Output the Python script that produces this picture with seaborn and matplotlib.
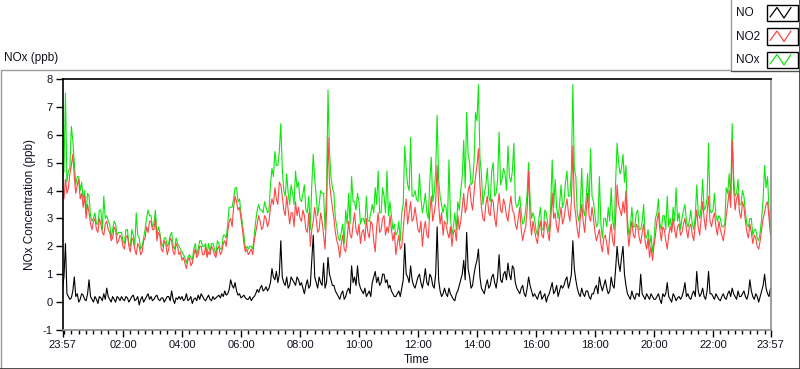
import matplotlib
matplotlib.use("Agg")
import matplotlib.pyplot as plt
import numpy as np
import pandas as pd
import seaborn as sns
from matplotlib.lines import Line2D
from matplotlib.patches import Rectangle

# one reading every 3 minutes starting at 23:57, one row per hour
no2 = [
    3.9, 3.7, 4.4, 3.9, 4.1, 4.6, 4.9, 5.3, 4.5, 3.9, 4.2, 4.4, 3.7, 3.9, 3.4, 3.8, 3.0, 3.5, 3.2, 2.8,
    2.6, 2.9, 3.0, 2.6, 2.5, 3.0, 2.8, 2.5, 2.4, 2.8, 2.9, 2.6, 2.5, 2.2, 2.3, 2.7, 2.6, 2.1, 2.2, 2.4,
    2.3, 2.0, 1.9, 2.3, 2.4, 2.0, 1.8, 2.3, 2.2, 1.9, 1.7, 2.1, 2.0, 1.7, 1.8, 2.2, 2.3, 2.7, 2.5, 2.9,
    2.9, 2.6, 2.6, 3.0, 2.2, 2.5, 2.4, 1.9, 1.8, 2.2, 2.1, 1.7, 1.9, 2.3, 2.2, 1.8, 1.7, 2.1, 2.0, 1.7,
    1.8, 1.5, 1.6, 1.4, 1.2, 1.5, 1.6, 1.3, 1.4, 1.7, 1.9, 1.6, 1.7, 2.0, 2.0, 1.7, 1.7, 2.0, 1.6, 1.8,
    1.7, 2.0, 1.9, 1.7, 1.6, 1.9, 2.0, 1.7, 1.8, 2.1, 2.2, 2.0, 2.5, 2.9, 3.0, 2.7, 3.4, 3.8, 3.6, 3.3,
    3.4, 3.0, 2.6, 2.1, 1.8, 1.9, 1.7, 1.8, 1.9, 1.7, 2.2, 2.5, 2.8, 3.1, 2.9, 2.6, 2.7, 3.1, 3.0, 2.7,
    2.9, 3.4, 3.7, 3.5, 4.1, 3.7, 3.5, 4.3, 4.2, 3.8, 3.3, 3.1, 3.8, 3.3, 2.8, 3.2, 3.2, 2.7, 3.6, 3.1,
    3.4, 3.0, 2.9, 3.3, 3.1, 2.6, 2.5, 3.2, 2.0, 2.6, 2.9, 3.4, 3.0, 2.5, 2.6, 3.2, 2.9, 2.4, 1.9, 3.2,
    5.9, 4.3, 3.8, 3.4, 3.0, 2.5, 2.2, 2.0, 1.6, 2.1, 2.4, 1.9, 1.8, 2.3, 2.9, 2.4, 2.3, 2.8, 3.2, 2.6,
    2.4, 2.8, 2.1, 2.5, 2.6, 2.2, 3.0, 2.5, 2.3, 2.9, 2.8, 2.2, 1.8, 2.7, 3.2, 2.5, 2.6, 3.0, 3.1, 2.4,
    2.7, 2.5, 3.1, 2.6, 2.2, 2.5, 1.7, 2.1, 2.4, 1.9, 2.0, 2.6, 3.3, 3.7, 2.8, 3.2, 3.6, 2.9, 3.0, 3.4,
    3.0, 2.6, 2.5, 2.9, 2.0, 2.6, 2.9, 2.4, 2.3, 3.2, 3.8, 2.9, 3.2, 3.6, 4.9, 3.5, 2.8, 3.2, 2.4, 2.9,
    2.8, 2.5, 2.3, 2.7, 2.0, 2.5, 2.6, 2.2, 3.1, 2.6, 2.9, 3.4, 3.9, 3.2, 3.4, 4.0, 4.2, 3.6, 3.3, 3.9,
    4.5, 4.9, 5.5, 4.2, 3.4, 3.0, 2.9, 3.5, 3.8, 3.2, 3.1, 3.7, 3.6, 3.0, 2.7, 3.4, 3.9, 3.3, 3.2, 3.7,
    3.5, 3.1, 2.9, 3.4, 3.8, 3.3, 3.2, 2.8, 2.6, 3.0, 3.4, 2.6, 2.2, 2.5, 2.7, 3.3, 4.7, 3.0, 2.4, 2.9,
    2.6, 2.3, 2.1, 2.6, 2.9, 2.4, 2.3, 2.9, 2.8, 2.5, 2.2, 2.9, 3.9, 3.0, 3.2, 2.7, 2.5, 3.0, 3.4, 2.8,
    3.0, 3.4, 3.7, 3.2, 2.9, 3.6, 5.6, 3.5, 3.1, 2.6, 2.3, 3.0, 3.5, 2.9, 2.5, 3.2, 3.9, 3.1, 2.9, 3.4,
    3.0, 2.5, 2.2, 2.4, 2.6, 2.1, 1.8, 2.3, 2.4, 2.1, 1.7, 2.4, 2.8, 2.2, 2.0, 3.0, 4.2, 3.5, 3.3, 3.1,
    3.6, 3.2, 4.0, 2.6, 2.0, 2.5, 2.9, 2.4, 2.3, 2.8, 2.7, 2.3, 2.1, 2.5, 2.8, 2.2, 1.9, 2.3, 1.6, 2.0,
    1.5, 2.0, 2.4, 2.9, 3.2, 2.6, 2.2, 2.7, 2.6, 2.2, 1.9, 2.4, 2.7, 2.5, 3.0, 2.6, 2.3, 2.7, 2.8, 2.4,
    2.5, 2.8, 3.0, 2.6, 2.3, 2.7, 2.8, 2.4, 2.2, 2.8, 3.3, 2.7, 2.4, 3.0, 3.6, 3.0, 2.6, 3.2, 3.8, 2.9,
    2.7, 3.0, 3.2, 2.7, 2.4, 2.9, 2.6, 2.4, 2.2, 2.6, 3.1, 3.5, 4.0, 3.4, 5.8, 4.1, 3.3, 3.7, 3.9, 3.2,
    3.0, 3.6, 3.4, 2.9, 2.5, 2.3, 2.8, 2.5, 2.1, 2.4, 2.3, 2.0, 1.9, 2.2, 2.6, 3.0, 3.2, 3.5, 3.6, 3.0,
    2.4,
]
nox = [
    4.4, 4.7, 7.5, 4.3, 4.7, 4.8, 6.3, 5.8, 5.0, 4.2, 4.5, 4.5, 4.0, 4.3, 3.7, 4.0, 3.2, 3.9, 3.8, 3.1,
    2.9, 3.0, 3.2, 2.8, 2.8, 3.3, 3.3, 2.6, 3.8, 3.0, 3.1, 2.9, 2.8, 2.3, 2.6, 2.9, 2.8, 2.4, 2.5, 2.5,
    2.5, 2.2, 2.1, 2.6, 2.6, 2.1, 2.0, 2.6, 2.4, 2.0, 3.2, 2.4, 2.3, 1.9, 2.0, 2.3, 2.6, 3.0, 3.3, 3.1,
    3.1, 2.7, 2.8, 3.3, 2.4, 2.7, 2.5, 2.1, 2.0, 2.3, 2.3, 2.0, 2.1, 2.4, 2.5, 2.0, 1.9, 2.3, 2.1, 2.0,
    1.9, 1.8, 1.7, 1.6, 1.4, 1.6, 1.7, 1.6, 1.5, 1.9, 2.1, 1.7, 1.9, 2.2, 2.2, 2.0, 2.0, 2.1, 1.7, 2.1,
    1.8, 2.1, 2.1, 1.9, 1.7, 2.2, 2.1, 1.9, 1.9, 2.4, 2.4, 2.3, 2.8, 3.4, 3.4, 3.4, 3.7, 4.1, 4.1, 3.6,
    3.7, 3.2, 2.8, 2.4, 1.9, 2.0, 1.9, 2.0, 2.0, 1.9, 2.4, 2.9, 3.3, 3.5, 3.3, 3.3, 3.2, 3.6, 3.4, 3.2,
    3.3, 4.2, 4.8, 4.5, 5.4, 4.9, 4.9, 5.4, 6.4, 4.8, 4.0, 3.8, 4.6, 3.9, 3.5, 4.2, 3.9, 3.5, 4.7, 4.1,
    4.3, 3.7, 3.6, 3.9, 4.2, 3.3, 3.2, 3.8, 2.6, 4.2, 5.3, 4.4, 3.8, 3.1, 3.5, 4.0, 3.9, 3.9, 2.6, 4.0,
    7.6, 5.4, 4.5, 4.1, 3.9, 3.0, 2.7, 2.3, 2.2, 2.5, 2.8, 2.1, 3.3, 2.8, 3.9, 2.8, 4.5, 3.6, 3.6, 3.3,
    3.9, 3.6, 2.8, 3.0, 3.0, 2.8, 3.8, 2.9, 2.9, 3.2, 3.5, 3.2, 4.1, 3.5, 4.7, 3.2, 3.2, 4.1, 3.8, 3.2,
    4.7, 3.1, 3.6, 3.1, 2.6, 2.8, 2.4, 2.5, 2.9, 2.2, 3.2, 3.5, 5.6, 4.8, 4.2, 4.0, 5.9, 3.8, 3.8, 4.0,
    3.7, 3.6, 4.6, 3.7, 3.2, 3.5, 3.9, 3.2, 3.0, 4.3, 5.2, 3.6, 3.9, 4.7, 6.7, 4.4, 3.8, 3.5, 3.2, 3.5,
    3.4, 2.8, 5.1, 3.1, 2.4, 2.7, 3.2, 2.6, 3.6, 3.3, 4.0, 4.5, 5.8, 4.1, 6.8, 5.3, 5.0, 4.2, 4.3, 5.0,
    6.8, 6.5, 7.8, 5.2, 4.6, 3.5, 3.9, 4.2, 4.8, 3.8, 3.6, 4.7, 5.0, 3.8, 3.9, 4.4, 6.1, 4.2, 4.4, 4.8,
    4.6, 4.0, 5.6, 4.5, 4.3, 4.7, 5.7, 3.6, 3.4, 3.5, 3.8, 3.2, 2.8, 2.9, 3.3, 3.9, 5.0, 3.7, 3.0, 3.2,
    3.0, 2.6, 2.4, 3.0, 3.4, 2.6, 2.6, 3.3, 3.2, 2.8, 2.5, 3.5, 5.1, 3.4, 4.4, 3.4, 3.0, 3.5, 4.2, 3.4,
    3.6, 4.3, 4.7, 3.8, 3.8, 4.7, 7.8, 4.8, 4.5, 3.2, 2.9, 3.3, 4.8, 3.3, 3.1, 3.7, 4.6, 3.4, 5.5, 3.8,
    3.6, 3.1, 2.7, 2.8, 4.5, 2.8, 2.3, 3.0, 3.0, 2.7, 3.4, 2.9, 4.1, 2.9, 2.6, 4.3, 5.7, 5.0, 4.6, 4.8,
    5.3, 4.3, 4.9, 3.0, 2.4, 2.7, 3.4, 2.7, 2.7, 3.2, 3.3, 2.6, 2.6, 2.9, 3.5, 2.4, 2.3, 2.6, 2.0, 2.4,
    1.8, 2.2, 3.0, 3.2, 3.7, 2.8, 2.6, 3.1, 3.1, 2.6, 3.8, 2.7, 3.0, 2.6, 3.4, 2.9, 4.1, 2.9, 3.2, 2.6,
    3.0, 3.3, 3.5, 2.9, 2.7, 2.9, 3.3, 2.8, 2.6, 3.1, 4.2, 3.2, 3.0, 3.4, 4.4, 3.3, 3.4, 3.7, 5.7, 3.3,
    3.2, 3.3, 3.9, 3.1, 2.9, 3.1, 3.0, 2.7, 2.7, 2.8, 4.1, 3.9, 4.6, 3.7, 6.4, 4.5, 3.8, 3.9, 4.4, 3.5,
    3.5, 4.0, 3.8, 3.2, 2.8, 2.7, 3.0, 3.0, 2.4, 2.6, 2.6, 2.3, 2.2, 2.5, 3.0, 3.7, 4.9, 4.1, 4.5, 3.3,
    2.6,
]
no = [
    0.5, 0.9, 2.1, 0.3, 0.2, 0.1, 0.15, 0.4, 0.9, 0.2, 0.3, 0.0, 0.1, 0.3, 0.25, 0.1, 0.05, 0.3, 0.8, 0.2,
    0.1, 0.0, 0.2, 0.1, -0.05, 0.2, 0.15, 0.05, 0.3, 0.1, 0.5, 0.2, 0.1, 0.0, 0.2, 0.1, 0.0, 0.2, 0.15, 0.05,
    0.2, 0.1, 0.05, 0.2, 0.15, 0.0, 0.1, 0.2, 0.25, 0.05, 0.1, 0.2, -0.1, 0.1, 0.2, 0.0, 0.1, 0.2, 0.3, 0.1,
    0.2, 0.05, 0.1, 0.2, 0.25, 0.1, 0.05, 0.15, 0.15, 0.0, 0.1, 0.2, 0.2, 0.05, 0.4, 0.1, -0.05, 0.15, 0.1, 0.2,
    0.1, 0.2, 0.05, 0.1, 0.3, 0.05, 0.1, 0.2, -0.05, 0.1, 0.15, 0.05, 0.25, 0.1, 0.3, 0.2, 0.1, 0.05, 0.15, 0.25,
    0.1, 0.05, 0.2, 0.1, 0.15, 0.2, 0.25, 0.15, 0.3, 0.2, 0.4, 0.25, 0.3, 0.45, 0.8, 0.6, 0.5, 0.7, 0.4, 0.25,
    0.3, 0.15, 0.2, 0.25, 0.15, 0.1, 0.1, 0.2, 0.05, 0.15, 0.2, 0.3, 0.45, 0.35, 0.5, 0.6, 0.4, 0.45, 0.55, 0.4,
    0.5, 0.7, 1.2, 0.9, 0.8, 1.1, 0.7, 1.0, 2.2, 0.9, 0.7, 0.6, 0.9, 0.5, 0.6, 0.9, 0.8, 0.7, 0.6, 0.9,
    0.8, 0.6, 0.7, 0.5, 0.3, 0.6, 0.8, 0.5, 0.6, 1.5, 2.4, 0.9, 0.7, 0.5, 0.9, 0.7, 0.6, 1.4, 0.5, 0.7,
    1.6, 1.0, 0.8, 0.6, 0.6, 0.4, 0.3, 0.2, 0.1, 0.3, 0.4, 0.1, 0.2, 0.4, 0.5, 0.3, 1.3, 0.7, 0.9, 0.6,
    1.3, 0.7, 0.5, 0.4, 0.3, 0.5, 0.2, 0.3, 0.4, 0.2, 0.7, 0.9, 1.1, 0.7, 0.9, 0.6, 0.7, 1.0, 1.0, 0.7,
    0.8, 0.5, 0.6, 0.4, 0.3, 0.2, 0.2, 0.3, 0.4, 0.2, 0.5, 0.8, 2.1, 1.0, 0.9, 0.7, 1.3, 0.8, 0.6, 0.5,
    0.7, 0.9, 1.0, 0.7, 0.5, 0.8, 1.2, 0.7, 0.6, 1.0, 0.9, 0.6, 0.5, 1.0, 2.7, 0.8, 0.4, 0.2, 0.3, 0.5,
    0.3, 0.2, 0.5, 0.3, 0.2, 0.1, 0.05, 0.3, 0.4, 0.6, 0.8, 1.0, 1.5, 0.8, 2.5, 1.2, 0.9, 0.5, 0.6, 1.0,
    1.3, 1.5, 1.9, 0.9, 0.5, 0.4, 0.3, 0.6, 0.8, 0.5, 0.6, 0.9, 1.0, 0.7, 0.5, 0.9, 1.7, 0.8, 0.7, 1.0,
    1.1, 0.8, 1.4, 1.0, 0.8, 1.3, 1.2, 0.7, 0.5, 0.4, 0.3, 0.5, 0.6, 0.3, 0.2, 0.5, 0.9, 0.6, 0.4, 0.2,
    0.3, 0.2, 0.1, 0.3, 0.4, 0.1, 0.2, 0.3, 0.0, 0.2, 0.3, 0.5, 0.7, 0.3, 0.4, 0.6, 0.2, 0.4, 0.6, 0.5,
    0.6, 0.8, 0.9, 0.5, 0.7, 1.0, 2.2, 1.2, 0.8, 0.5, 0.3, 0.2, 0.5, 0.3, 0.2, 0.4, 0.4, 0.2, 0.1, 0.3,
    0.3, 0.5, 0.6, 0.3, 0.9, 0.6, 0.4, 0.6, 0.8, 0.5, 0.3, 0.4, 0.9, 0.6, 0.5, 1.2, 2.0, 1.4, 1.1, 1.6,
    2.0, 1.0, 0.6, 0.3, 0.2, 0.1, 0.4, 0.2, 0.1, 0.3, 0.3, 0.2, 1.0, 0.3, 0.2, 0.1, 0.3, 0.2, 0.1, 0.3,
    0.2, 0.1, 0.1, 0.2, 0.3, 0.1, -0.05, 0.3, 0.2, 0.3, 0.7, 0.2, 0.1, 0.0, 0.3, 0.2, 0.05, 0.15, 0.2, 0.1,
    0.2, 0.4, 0.7, 0.2, 0.3, 0.15, 0.1, 0.3, 0.4, 0.2, 1.1, 0.4, 0.2, 0.3, 0.5, 0.2, 0.1, 0.4, 1.1, 0.3,
    0.3, 0.2, 0.1, 0.3, 0.2, 0.1, 0.05, 0.2, 0.3, 0.15, 0.1, 0.3, 0.4, 0.2, 0.5, 0.3, 0.2, 0.1, 0.4, 0.2,
    0.2, 0.3, 0.4, 0.2, 0.1, 0.3, 0.8, 0.4, 0.2, 0.1, 0.3, 0.2, 0.0, 0.2, 0.4, 0.6, 1.0, 0.5, 0.3, 0.2,
    0.5,
]
STEP_MIN = 3

# x ticks: minutes after 23:57
tick_minutes = [0, 123, 243, 363, 483, 603, 723, 843, 963, 1083, 1203, 1323, 1440]
tick_labels = ["23:57", "02:00", "04:00", "06:00", "08:00", "10:00", "12:00",
               "14:00", "16:00", "18:00", "20:00", "22:00", "23:57"]
series_names = ["NO", "NO2", "NOx"]
colors = {"NO": "#000000", "NO2": "#ff4646", "NOx": "#0ee60e"}

minutes = np.arange(len(no2)) * STEP_MIN
df = pd.DataFrame({"minute": minutes, "NO": no, "NO2": no2, "NOx": nox})

sns.set_theme(style="white")
plt.rcParams["font.family"] = ["Liberation Sans", "DejaVu Sans"]
plt.rcParams["axes.unicode_minus"] = False

W, H = 800, 369
fig = plt.figure(figsize=(W / 100, H / 100), dpi=100)
ax = fig.add_axes([62.5 / W, 1 - 330 / H, 708 / W, 251 / H])

# draw NOx underneath, NO on top
for name in ["NOx", "NO2", "NO"]:
    sns.lineplot(data=df, x="minute", y=name, ax=ax, color=colors[name],
                 linewidth=0.8, estimator=None, legend=False)

ax.set_xlim(0, 1440)
ax.set_ylim(-1, 8)
ax.set_yticks(range(-1, 9))
ax.set_xticks(tick_minutes)
ax.set_xticklabels(tick_labels)
ax.set_xticks([m for m in range(3, 1440, 15) if m not in tick_minutes], minor=True)

ax.tick_params(axis="both", which="major", direction="out", length=5, width=1,
               color="black", labelsize=8, labelcolor="#101020", pad=2,
               bottom=True, left=True)
ax.tick_params(axis="x", which="minor", direction="out", length=3, width=1,
               color="black", bottom=True)

for side in ["top", "left"]:
    ax.spines[side].set_color("black")
    ax.spines[side].set_linewidth(1.2)
for side in ["bottom", "right"]:
    ax.spines[side].set_color("#8c8c8c")
    ax.spines[side].set_linewidth(1.2)

ax.set_xlabel("Time", fontsize=8.5, color="#101020")
ax.set_ylabel("NOx Concentration (ppb)", fontsize=8.5, color="#101020")
ax.xaxis.set_label_coords(0.5, -0.095)
ax.yaxis.set_label_coords(-0.037, 0.5)

fig.text(4 / W, 1 - 58 / H, "NOx (ppb)", fontsize=8.5, color="#101020",
         ha="left", va="center")

# panel frame
frame = Line2D([0.5 / W, 0.5 / W, 731 / W, 731 / W],
               [0, 1 - 69.5 / H, 1 - 69.5 / H, 1], transform=fig.transFigure,
               color="#9a9a9a", linewidth=1)
fig.add_artist(frame)
fig.add_artist(Line2D([731 / W, 1], [1 - 71 / H, 1 - 71 / H],
                      transform=fig.transFigure, color="#505050", linewidth=1))
fig.add_artist(Line2D([0, 1], [0.5 / H, 0.5 / H], transform=fig.transFigure,
                      color="#303030", linewidth=1.2))
fig.add_artist(Line2D([799.5 / W, 799.5 / W], [0, 1], transform=fig.transFigure,
                      color="#303030", linewidth=1.2))

# legend entries
for i, name in enumerate(series_names):
    ty = 13 + i * 23.5
    fig.text(736 / W, 1 - ty / H, name, fontsize=8.5, color="#101020",
             ha="left", va="center")
    top, bot = ty - 8.5, ty + 8
    box = Rectangle((767 / W, 1 - bot / H), 31 / W, (bot - top) / H,
                    transform=fig.transFigure, facecolor="white",
                    edgecolor="black", linewidth=1)
    fig.add_artist(box)
    zx = [770, 777, 784, 791]
    zy = [bot - 4, top + 3, bot - 3, top + 3]
    fig.add_artist(Line2D([x / W for x in zx], [1 - y / H for y in zy],
                          transform=fig.transFigure, color=colors[name],
                          linewidth=0.9))

fig.savefig("out.png", dpi=100, facecolor="white")
